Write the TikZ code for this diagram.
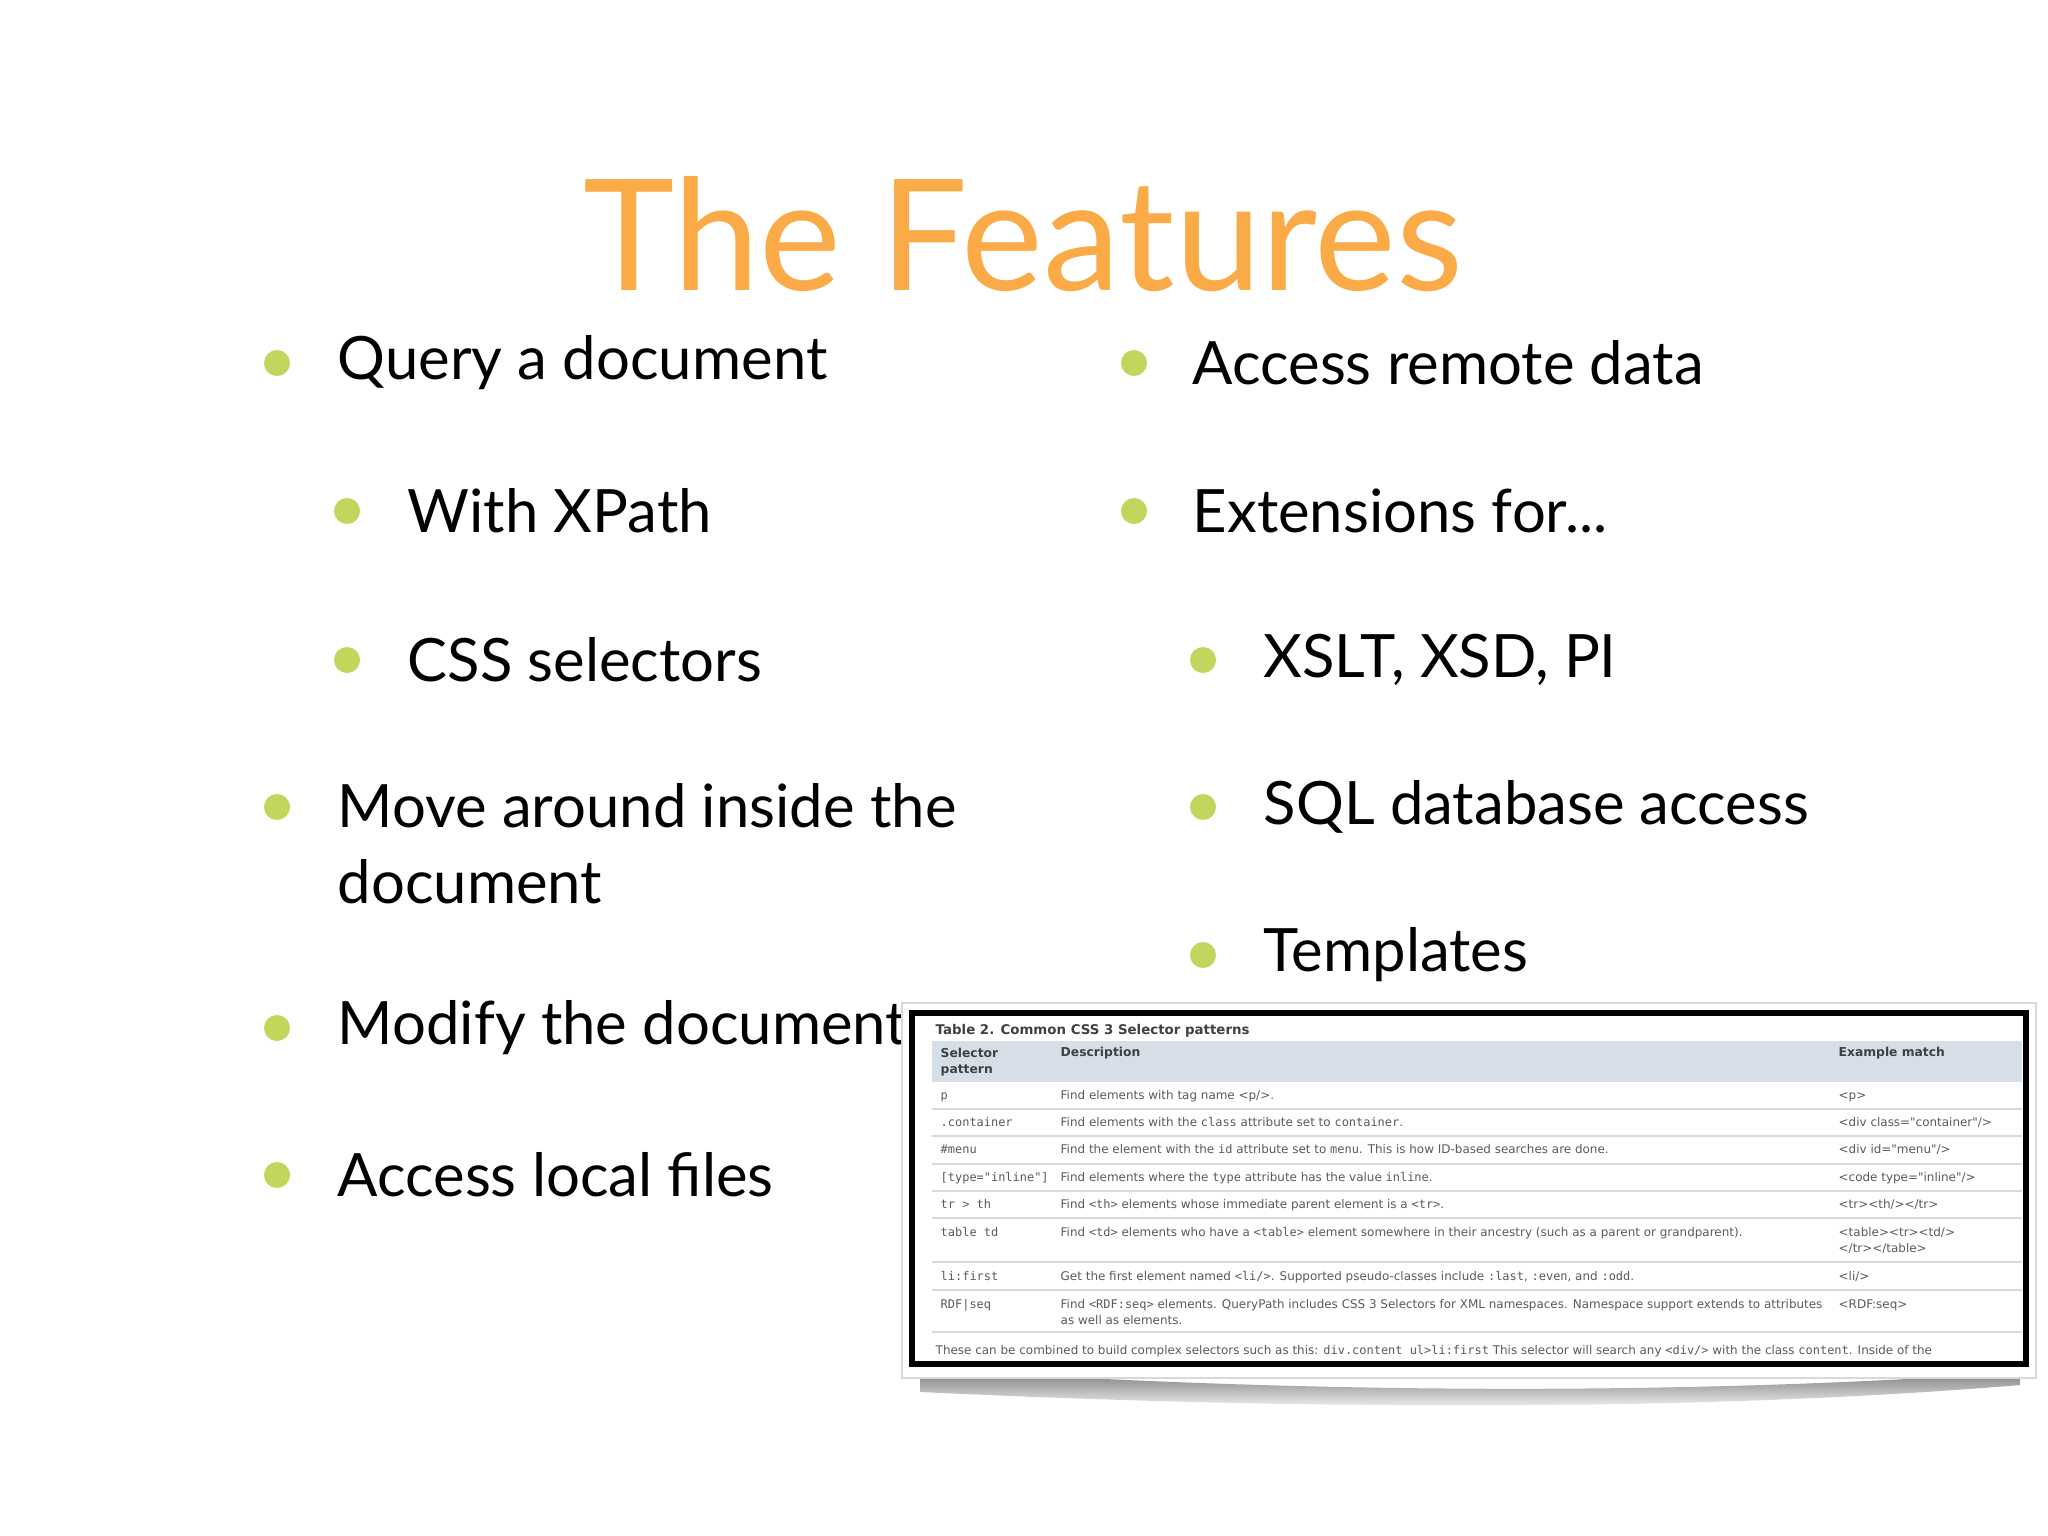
\documentclass[tikz,border=0pt]{standalone}
\usepackage{fontspec}
\setmainfont{Lato}
\newfontfamily\tabfont{DejaVu Sans}
\newfontfamily\tabmono{DejaVu Sans Mono}
\usetikzlibrary{shadings}
\definecolor{titleor}{RGB}{250,170,70}
\definecolor{dotgr}{RGB}{192,214,92}
\definecolor{hdrbl}{RGB}{214,222,232}
\definecolor{txtg}{RGB}{90,90,90}
\tikzset{
  dot/.style={circle,fill=dotgr,inner sep=0pt,minimum size=0.26cm},
  item/.style={anchor=west,font=\fontsize{17}{20}\selectfont,inner sep=0pt,align=left},
  tcell/.style={anchor=base west,inner sep=0pt,font=\tabfont\fontsize{3.4}{4.6}\selectfont,text=txtg,align=left},
  tmono/.style={anchor=base west,inner sep=0pt,font=\tabmono\fontsize{3.4}{4.6}\selectfont,text=txtg},
  thead/.style={anchor=base west,inner sep=0pt,font=\tabfont\bfseries\fontsize{3.5}{4.6}\selectfont,text=black!75,align=left},
  multi/.style={anchor=north west},
  rowline/.style={draw=black!15,line width=0.6pt}
}
\begin{document}
\begin{tikzpicture}[x=0.01cm,y=-0.01cm]
\useasboundingbox (0,0) rectangle (2048,1536);
\fill[white] (0,0) rectangle (2048,1536);
\node[font=\fontsize{44}{50}\selectfont,text=titleor,inner sep=0pt,anchor=base] (title) at (1023,290) {The Features};
% left column
\node[dot] (d1) at (277,363) {}; \node[item] (t1) at (337,363) {Query a document};
\node[dot] (d2) at (347,511) {}; \node[item] (t2) at (407,511) {With XPath};
\node[dot] (d3) at (347,660) {}; \node[item] (t3) at (407,660) {CSS selectors};
\node[dot] (d4) at (277,807) {}; \node[item,anchor=north west] (t4) at (337,783) {Move around inside the\\[1.5pt]document};
\node[dot] (d5) at (277,1028) {}; \node[item] (t5) at (337,1028) {Modify the document};
\node[dot] (d6) at (277,1175) {}; \node[item] (t6) at (337,1175) {Access local files};
% right column
\node[dot] (r1) at (1134,363) {}; \node[item] (u1) at (1192,363) {Access remote data};
\node[dot] (r2) at (1134,511) {}; \node[item] (u2) at (1192,511) {Extensions for...};
\node[dot] (r3) at (1203,660) {}; \node[item] (u3) at (1263,660) {XSLT, XSD, PI};
\node[dot] (r4) at (1203,807) {}; \node[item] (u4) at (1263,807) {SQL database access};
\node[dot] (r5) at (1203,955) {}; \node[item] (u5) at (1263,955) {Templates};
% table shadow
\shade[top color=black!55,bottom color=white] (920,1368) .. controls (1300,1395) and (1700,1395) .. (2020,1372) -- (2020,1385) .. controls (1700,1412) and (1300,1410) .. (920,1392) -- cycle;
% table frame
\fill[white,draw=black!15] (902,1003) rectangle (2036,1378);
\draw[black,line width=1.6pt] (912,1013) rectangle (2026,1364);
\fill[hdrbl] (932,1041) rectangle (2022,1082);
\begin{scope}
\clip (912,1013) rectangle (2024,1364);
\node[thead,font=\tabfont\bfseries\fontsize{3.8}{4.6}\selectfont] (tt) at (935,1034) {Table 2. Common CSS 3 Selector patterns};
\node[thead,multi] (h1) at (940,1047) {Selector\\pattern};
\node[thead] (h2) at (1060,1056) {Description};
\node[thead] (h3) at (1838,1056) {Example match};
\foreach \yy in {1109,1136,1164,1191,1218,1262,1290,1332}{\draw[rowline] (932,\yy) -- (2022,\yy);}
\node[tmono] (s1) at (940,1099) {p};
\node[tcell] (e1) at (1060,1099) {Find elements with tag name <p/>.};
\node[tcell] (x1) at (1838,1099) {<p>};
\node[tmono] (s2) at (940,1126) {.container};
\node[tcell] (e2) at (1060,1126) {Find elements with the {\tabmono class} attribute set to {\tabmono container}.};
\node[tcell] (x2) at (1838,1126) {<div class="container"/>};
\node[tmono] (s3) at (940,1153) {\#menu};
\node[tcell] (e3) at (1060,1153) {Find the element with the {\tabmono id} attribute set to {\tabmono menu}. This is how ID-based searches are done.};
\node[tcell] (x3) at (1838,1153) {<div id="menu"/>};
\node[tmono] (s4) at (940,1181) {[type="inline"]};
\node[tcell] (e4) at (1060,1181) {Find elements where the {\tabmono type} attribute has the value {\tabmono inline}.};
\node[tcell] (x4) at (1838,1181) {<code type="inline"/>};
\node[tmono] (s5) at (940,1208) {tr > th};
\node[tcell] (e5) at (1060,1208) {Find {\tabmono <th>} elements whose immediate parent element is a {\tabmono <tr>}.};
\node[tcell] (x5) at (1838,1208) {<tr><th/></tr>};
\node[tmono] (s6) at (940,1236) {table td};
\node[tcell] (e6) at (1060,1236) {Find {\tabmono <td>} elements who have a {\tabmono <table>} element somewhere in their ancestry (such as a parent or grandparent).};
\node[tcell,multi] (x6) at (1838,1227) {<table><tr><td/>\\</tr></table>};
\node[tmono] (s7) at (940,1280) {li:first};
\node[tcell] (e7) at (1060,1280) {Get the first element named {\tabmono <li/>}. Supported pseudo-classes include {\tabmono :last}, {\tabmono :even}, and {\tabmono :odd}.};
\node[tcell] (x7) at (1838,1280) {<li/>};
\node[tmono] (s8) at (940,1308) {RDF|seq};
\node[tcell,multi] (e8) at (1060,1299) {Find {\tabmono <RDF:seq>} elements. QueryPath includes CSS 3 Selectors for XML namespaces. Namespace support extends to attributes\\as well as elements.};
\node[tcell] (x8) at (1838,1308) {<RDF:seq>};
\node[tcell] (ft) at (935,1354) {These can be combined to build complex selectors such as this: {\tabmono div.content ul>li:first} This selector will search any {\tabmono <div/>} with the class {\tabmono content}. Inside of the};
\end{scope}
\end{tikzpicture}
\end{document}
